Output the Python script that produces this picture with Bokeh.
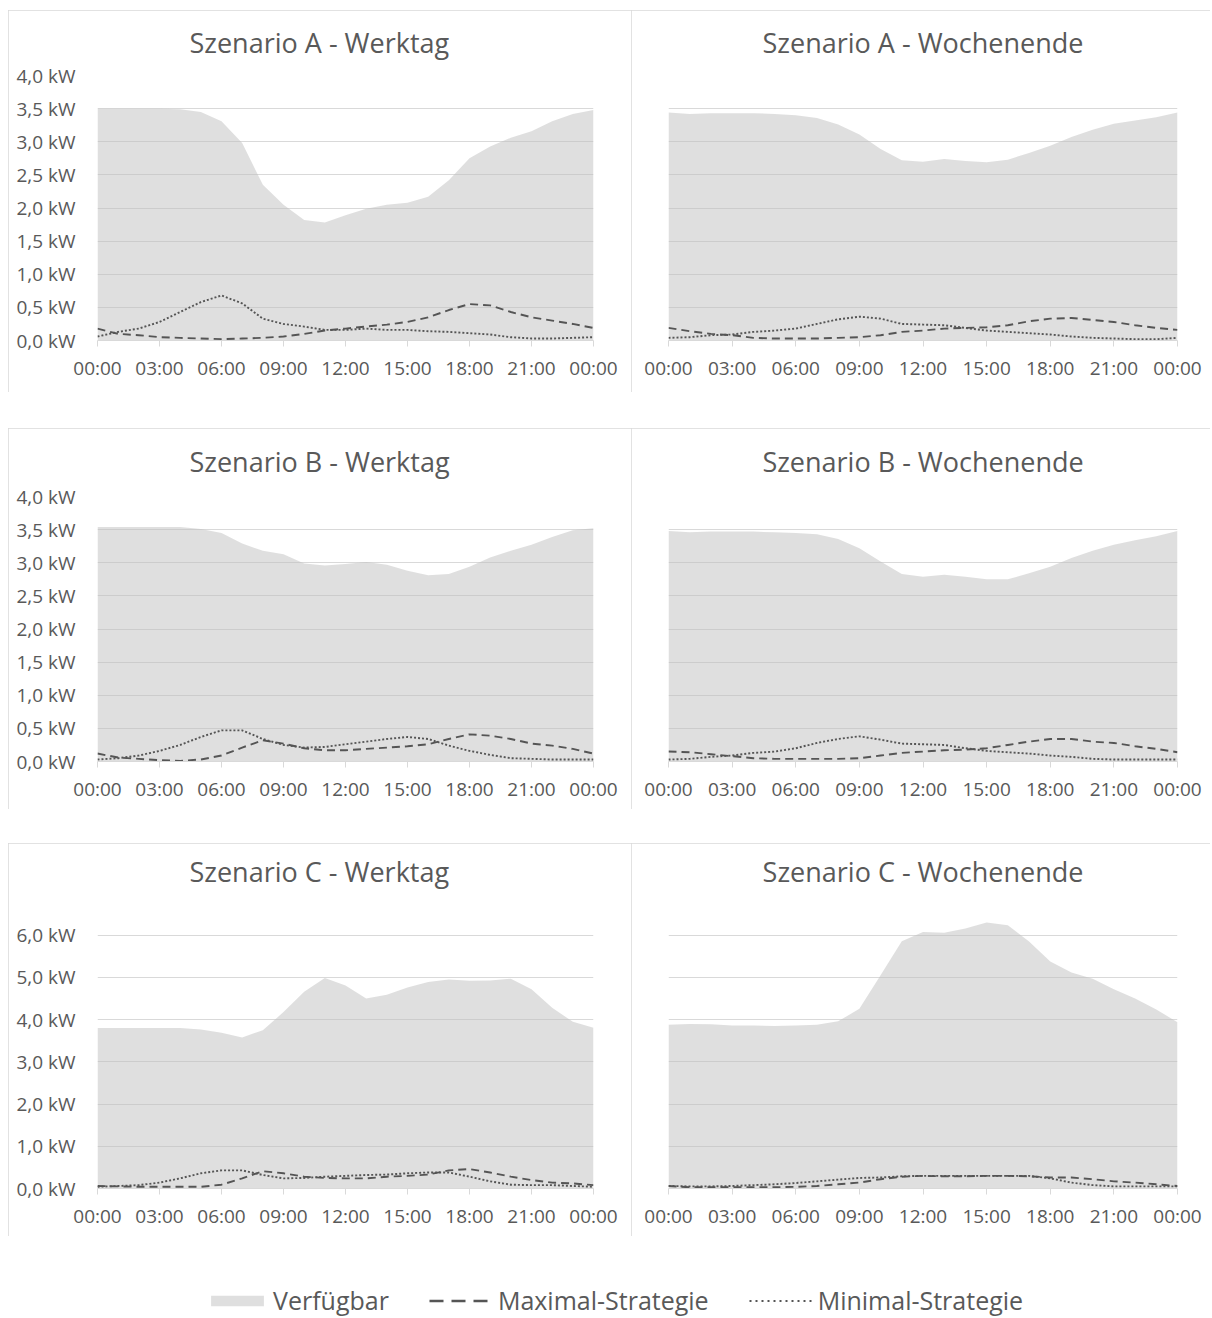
from bokeh.plotting import figure
from bokeh.models import FixedTicker, Title, Legend, LegendItem, Spacer
from bokeh.layouts import column, row
from bokeh.embed import file_html
from bokeh.resources import INLINE

# ---------------- data ----------------
hours = list(range(25))
x_ticks = [0, 3, 6, 9, 12, 15, 18, 21, 24]
x_tick_labels = ["00:00", "03:00", "06:00", "09:00", "12:00", "15:00", "18:00", "21:00", "00:00"]

y_ticks_ab = [0.0, 0.5, 1.0, 1.5, 2.0, 2.5, 3.0, 3.5, 4.0]
y_tick_labels_ab = ["0,0 kW", "0,5 kW", "1,0 kW", "1,5 kW", "2,0 kW", "2,5 kW", "3,0 kW", "3,5 kW", "4,0 kW"]
y_ticks_c = [0, 1, 2, 3, 4, 5, 6]
y_tick_labels_c = ["0,0 kW", "1,0 kW", "2,0 kW", "3,0 kW", "4,0 kW", "5,0 kW", "6,0 kW"]

titles = ["Szenario A - Werktag", "Szenario A - Wochenende",
          "Szenario B - Werktag", "Szenario B - Wochenende",
          "Szenario C - Werktag", "Szenario C - Wochenende"]
series_names = ["Verfügbar", "Maximal-Strategie", "Minimal-Strategie"]

# Szenario A - Werktag
verf_a_werktag = [3.50, 3.50, 3.50, 3.50, 3.49, 3.45, 3.31, 2.98, 2.35, 2.05, 1.82, 1.78, 1.89,
                  1.99, 2.05, 2.08, 2.17, 2.42, 2.75, 2.93, 3.06, 3.16, 3.31, 3.42, 3.48]
max_a_werktag = [0.18, 0.10, 0.08, 0.05, 0.04, 0.03, 0.02, 0.03, 0.04, 0.06, 0.10, 0.15, 0.18,
                 0.21, 0.24, 0.28, 0.35, 0.46, 0.55, 0.53, 0.43, 0.35, 0.30, 0.25, 0.19]
min_a_werktag = [0.06, 0.13, 0.18, 0.28, 0.43, 0.58, 0.68, 0.56, 0.33, 0.25, 0.21, 0.16, 0.16,
                 0.18, 0.16, 0.16, 0.14, 0.13, 0.11, 0.09, 0.05, 0.03, 0.03, 0.04, 0.05]

# Szenario A - Wochenende
verf_a_wochenende = [3.44, 3.42, 3.43, 3.43, 3.43, 3.42, 3.40, 3.36, 3.26, 3.11, 2.89, 2.72, 2.70,
                     2.74, 2.71, 2.69, 2.73, 2.83, 2.94, 3.07, 3.18, 3.27, 3.32, 3.37, 3.44]
max_a_wochenende = [0.19, 0.14, 0.10, 0.08, 0.04, 0.03, 0.03, 0.03, 0.04, 0.05, 0.08, 0.13, 0.15,
                    0.18, 0.19, 0.20, 0.23, 0.29, 0.33, 0.34, 0.31, 0.28, 0.23, 0.19, 0.16]
min_a_wochenende = [0.04, 0.05, 0.08, 0.09, 0.13, 0.15, 0.18, 0.25, 0.32, 0.36, 0.33, 0.25, 0.24,
                    0.23, 0.19, 0.15, 0.13, 0.11, 0.09, 0.06, 0.04, 0.03, 0.02, 0.02, 0.04]

# Szenario B - Werktag
verf_b_werktag = [3.54, 3.54, 3.54, 3.54, 3.54, 3.51, 3.45, 3.29, 3.18, 3.13, 2.99, 2.96, 2.98,
                  3.01, 2.97, 2.88, 2.81, 2.83, 2.94, 3.08, 3.18, 3.27, 3.39, 3.49, 3.52]
max_b_werktag = [0.12, 0.06, 0.04, 0.02, 0.01, 0.03, 0.09, 0.21, 0.32, 0.27, 0.20, 0.17, 0.17,
                 0.19, 0.21, 0.23, 0.26, 0.34, 0.41, 0.39, 0.34, 0.27, 0.24, 0.19, 0.12]
min_b_werktag = [0.03, 0.05, 0.09, 0.16, 0.25, 0.37, 0.47, 0.47, 0.34, 0.25, 0.21, 0.22, 0.26,
                 0.30, 0.34, 0.37, 0.34, 0.24, 0.16, 0.10, 0.05, 0.04, 0.03, 0.03, 0.03]

# Szenario B - Wochenende
verf_b_wochenende = [3.48, 3.46, 3.47, 3.47, 3.47, 3.46, 3.45, 3.43, 3.36, 3.22, 3.02, 2.83, 2.79,
                     2.82, 2.79, 2.75, 2.75, 2.84, 2.94, 3.07, 3.18, 3.27, 3.34, 3.40, 3.48]
max_b_wochenende = [0.15, 0.14, 0.11, 0.08, 0.05, 0.04, 0.04, 0.04, 0.04, 0.05, 0.09, 0.13, 0.15,
                    0.17, 0.18, 0.20, 0.25, 0.30, 0.34, 0.34, 0.30, 0.28, 0.23, 0.19, 0.14]
min_b_wochenende = [0.03, 0.04, 0.07, 0.09, 0.13, 0.15, 0.20, 0.28, 0.34, 0.38, 0.33, 0.27, 0.26,
                    0.25, 0.20, 0.16, 0.14, 0.12, 0.09, 0.07, 0.04, 0.03, 0.03, 0.03, 0.03]

# Szenario C - Werktag
verf_c_werktag = [3.80, 3.80, 3.80, 3.80, 3.80, 3.77, 3.69, 3.58, 3.75, 4.18, 4.66, 4.99, 4.81,
                  4.50, 4.59, 4.76, 4.89, 4.95, 4.92, 4.93, 4.97, 4.72, 4.28, 3.95, 3.81]
max_c_werktag = [0.06, 0.05, 0.04, 0.04, 0.04, 0.04, 0.09, 0.24, 0.41, 0.36, 0.28, 0.25, 0.24,
                 0.24, 0.28, 0.30, 0.33, 0.43, 0.46, 0.38, 0.28, 0.20, 0.14, 0.12, 0.08]
min_c_werktag = [0.04, 0.06, 0.08, 0.14, 0.24, 0.36, 0.43, 0.43, 0.32, 0.24, 0.25, 0.28, 0.30,
                 0.32, 0.33, 0.36, 0.38, 0.38, 0.28, 0.17, 0.09, 0.08, 0.08, 0.06, 0.04]

# Szenario C - Wochenende
verf_c_wochenende = [3.88, 3.90, 3.89, 3.86, 3.86, 3.85, 3.86, 3.88, 3.96, 4.26, 5.05, 5.86, 6.08,
                     6.06, 6.16, 6.30, 6.24, 5.85, 5.38, 5.12, 4.97, 4.72, 4.50, 4.24, 3.94]
max_c_wochenende = [0.06, 0.03, 0.03, 0.03, 0.03, 0.03, 0.04, 0.06, 0.10, 0.14, 0.22, 0.28, 0.30,
                    0.29, 0.29, 0.30, 0.30, 0.29, 0.26, 0.26, 0.22, 0.17, 0.14, 0.10, 0.06]
min_c_wochenende = [0.06, 0.05, 0.05, 0.06, 0.08, 0.10, 0.13, 0.17, 0.21, 0.25, 0.26, 0.29, 0.30,
                    0.30, 0.30, 0.30, 0.30, 0.30, 0.24, 0.14, 0.08, 0.05, 0.05, 0.05, 0.05]

# ---------------- styling ----------------
FONT = "Open Sans"
TXT = "#595959"
GRID = "#d9d9d9"
AREA = "#bfbfbf"
LINE = "#555555"
DASH = "8 5"
DOT = "2 2"
TITLE_BOX = 39  # height of the title text box (27px font) + 2


def make_panel(title, verf, maxs, mins, ymax, yticks, ylabels, left_panel,
               fig_h, top_b, bottom_b):
    if left_panel:
        w, lb, rb = 623, 89, 38
    else:
        w, lb, rb = 579, 37, 33
    p = figure(width=w, height=fig_h, x_range=(0, 24), y_range=(0, ymax),
               output_backend="svg", toolbar_location=None,
               min_border_left=lb, min_border_right=rb,
               min_border_top=top_b, min_border_bottom=bottom_b,
               outline_line_color=None,
               background_fill_color="white", border_fill_color="white",
               styles={"outline": "1px solid #d9d9d9", "outline-offset": "-1px"})
    p.varea(x=hours, y1=0, y2=verf, fill_color=AREA, fill_alpha=0.5)
    p.line(hours, maxs, line_color=LINE, line_width=1.9, line_dash=DASH)
    p.line(hours, mins, line_color=LINE, line_width=1.9, line_dash=DOT)

    # x axis
    p.xaxis.ticker = FixedTicker(ticks=x_ticks)
    p.xaxis.major_label_overrides = {t: l for t, l in zip(x_ticks, x_tick_labels)}
    p.xaxis.axis_line_color = GRID
    p.xaxis.major_tick_line_color = GRID
    p.xaxis.major_tick_out = 6
    p.xaxis.major_tick_in = 0
    p.xaxis.minor_tick_line_color = None
    p.xaxis.major_label_standoff = 8
    p.xaxis.major_label_text_font = FONT
    p.xaxis.major_label_text_font_size = "19px"
    p.xaxis.major_label_text_color = TXT
    p.xgrid.visible = False

    # y axis
    p.yaxis.ticker = FixedTicker(ticks=yticks)
    p.ygrid.ticker = FixedTicker(ticks=yticks)
    p.yaxis.major_label_overrides = {t: l for t, l in zip(yticks, ylabels)}
    p.yaxis.axis_line_color = None
    p.yaxis.major_tick_line_color = None
    p.yaxis.major_tick_out = 0
    p.yaxis.major_tick_in = 0
    p.yaxis.minor_tick_line_color = None
    p.yaxis.major_label_standoff = 22
    p.yaxis.major_label_text_font = FONT
    p.yaxis.major_label_text_font_size = "19px"
    p.yaxis.major_label_text_color = TXT
    p.ygrid.grid_line_color = GRID
    p.ygrid.grid_line_width = 1
    if not left_panel:
        p.yaxis.visible = False

    if left_panel:
        t = Title(text=title, align="left", offset=92)
    else:
        t = Title(text=title, align="center")
    t.vertical_align = "top"
    t.standoff = top_b - TITLE_BOX
    t.text_font = FONT
    t.text_font_size = "27px"
    t.text_font_style = "normal"
    t.text_color = TXT
    p.add_layout(t, "above")
    return p


p1 = make_panel(titles[0], verf_a_werktag, max_a_werktag, min_a_werktag, 4.0,
                y_ticks_ab, y_tick_labels_ab, True, 382, 65, 52)
p2 = make_panel(titles[1], verf_a_wochenende, max_a_wochenende, min_a_wochenende, 4.0,
                y_ticks_ab, y_tick_labels_ab, False, 382, 65, 52)
p3 = make_panel(titles[2], verf_b_werktag, max_b_werktag, min_b_werktag, 4.0,
                y_ticks_ab, y_tick_labels_ab, True, 381, 68, 48)
p4 = make_panel(titles[3], verf_b_wochenende, max_b_wochenende, min_b_wochenende, 4.0,
                y_ticks_ab, y_tick_labels_ab, False, 381, 68, 48)
p5 = make_panel(titles[4], verf_c_werktag, max_c_werktag, min_c_werktag, 6.8,
                y_ticks_c, y_tick_labels_c, True, 393, 58, 48)
p6 = make_panel(titles[5], verf_c_wochenende, max_c_wochenende, min_c_wochenende, 6.8,
                y_ticks_c, y_tick_labels_c, False, 393, 58, 48)

# ---------------- legend ----------------
# legend-only figure: the renderers use real series but lie outside the visible range
leg = figure(width=1212, height=82, x_range=(0, 24), y_range=(100, 101),
             output_backend="svg", toolbar_location=None, min_border=0,
             outline_line_color=None)
leg.axis.visible = False
leg.grid.visible = False
r_area = leg.varea(x=hours, y1=0, y2=verf_a_werktag, fill_color=AREA, fill_alpha=0.5)
r_max = leg.line(x=hours, y=max_a_werktag, line_color=LINE, line_width=2.5, line_dash="14 8")
r_min = leg.line(x=hours, y=min_a_werktag, line_color=LINE, line_width=1.8, line_dash="2 4")
legend = Legend(items=[LegendItem(label=series_names[0], renderers=[r_area]),
                       LegendItem(label=series_names[1], renderers=[r_max]),
                       LegendItem(label=series_names[2], renderers=[r_min])],
                orientation="horizontal", location=(204, 1),
                glyph_width=66, glyph_height=13, label_standoff=3, spacing=40,
                padding=0, margin=0, border_line_color=None, background_fill_alpha=0,
                label_text_font=FONT, label_text_font_size="25px", label_text_color=TXT)
leg.add_layout(legend)

layout = column(Spacer(width=1212, height=10),
                row(Spacer(width=8, height=382), p1, p2),
                Spacer(width=1212, height=36),
                row(Spacer(width=8, height=381), p3, p4),
                Spacer(width=1212, height=34),
                row(Spacer(width=8, height=393), p5, p6),
                leg)

open("out.html", "w").write(file_html(layout, INLINE))
